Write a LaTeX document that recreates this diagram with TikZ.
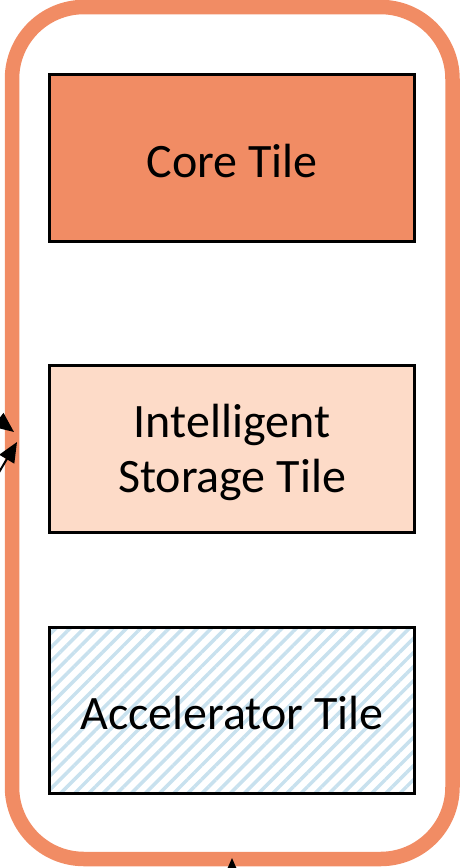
\documentclass[tikz,border=0pt]{standalone}
\usepackage{fontspec}
\setmainfont{Carlito}
\usetikzlibrary{patterns.meta,arrows.meta}
\definecolor{outerorange}{RGB}{241,140,100}
\definecolor{corefill}{RGB}{241,140,100}
\definecolor{storfill}{RGB}{253,219,200}
\definecolor{hatchblue}{RGB}{200,225,238}
\tikzset{
  tilebox/.style={draw=black, line width=3pt, minimum width=365pt, minimum height=167pt, inner sep=0pt, align=center, font=\fontsize{48}{55}\selectfont},
  conn/.style={draw=black, line width=2pt, -{Triangle[length=20pt,width=17pt]}},
}
\begin{document}
\begin{tikzpicture}[x=1pt,y=-1pt]
\useasboundingbox (0,0) rectangle (461,868);
\clip (0,0) rectangle (461,868);
\draw[outerorange, line width=14.5pt, rounded corners=72pt] (12,7) rectangle (452.5,859);
\node[tilebox, fill=corefill] (core) at (232,158) {};
\node[font=\fontsize{48}{55}\selectfont] (coretext) at (232,161) {Core Tile};
\node[tilebox, fill=storfill] (stor) at (232,449) {};
\node[font=\fontsize{48}{55}\selectfont, align=center] (stortext) at (232,452) {Intelligent\\Storage Tile};
\node[tilebox, minimum height=166pt, pattern={Lines[angle=45,distance=10pt,line width=3.5pt]}, pattern color=hatchblue] (acc) at (232,710.5) {};
\node[font=\fontsize{48}{55}\selectfont] (acctext) at (232,713) {Accelerator Tile};
\coordinate (a1s) at (-25,402);
\coordinate (a1e) at (14,432);
\coordinate (a2s) at (-8,484);
\coordinate (a2e) at (17,442);
\coordinate (a3s) at (232,890);
\coordinate (a3e) at (232,858);
\draw[conn] (a1s) -- (a1e);
\draw[conn] (a2s) -- (a2e);
\draw[conn] (a3s) -- (a3e);
\end{tikzpicture}
\end{document}
